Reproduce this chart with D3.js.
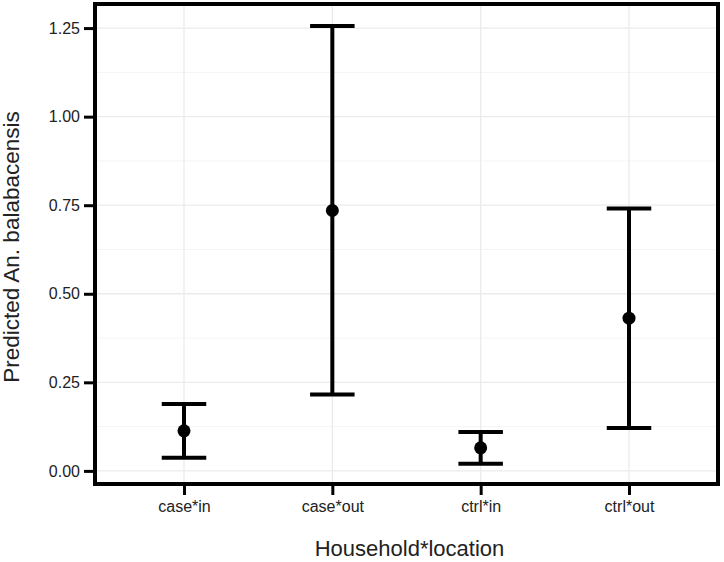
<!DOCTYPE html>
<html>
<head>
<meta charset="utf-8">
<script src="https://cdn.jsdelivr.net/npm/d3@7"></script>
<style>
  body { margin: 0; background: #fff; }
  text { font-family: Arial, "Liberation Sans", sans-serif; }
</style>
</head>
<body>
<svg id="chart" width="724" height="562"></svg>
<script>
// donnees
let categories = ["case*in", "case*out", "ctrl*in", "ctrl*out"];
let predicted = [0.113, 0.735, 0.065, 0.431];
let lower = [0.037, 0.216, 0.020, 0.121];
let upper = [0.189, 1.256, 0.110, 0.741];
let yTicks = [0, 0.25, 0.5, 0.75, 1.0, 1.25];
let yMinor = [0.125, 0.375, 0.625, 0.875, 1.125];

let data = categories.map((c, i) => ({ cat: c, fit: predicted[i], lo: lower[i], hi: upper[i] }));

let panel = { left: 95, right: 718, top: 4, bottom: 484 };
let svg = d3.select("#chart");

// axe x discret, expansion 0.6 de chaque cote comme ggplot
let x = d3.scalePoint()
    .domain(categories)
    .range([panel.left, panel.right])
    .padding(0.6);

let y = d3.scaleLinear()
    .domain([-0.037, 1.318])
    .range([panel.bottom, panel.top]);

// grille secondaire
svg.append("g").selectAll("line")
    .data(yMinor)
    .join("line")
    .attr("x1", panel.left).attr("x2", panel.right)
    .attr("y1", d => y(d)).attr("y2", d => y(d))
    .attr("stroke", "#f4f4f4").attr("stroke-width", 1);

// grille principale
svg.append("g").selectAll("line")
    .data(yTicks)
    .join("line")
    .attr("x1", panel.left).attr("x2", panel.right)
    .attr("y1", d => y(d)).attr("y2", d => y(d))
    .attr("stroke", "#ebebeb").attr("stroke-width", 1.3);

svg.append("g").selectAll("line")
    .data(categories)
    .join("line")
    .attr("x1", d => x(d)).attr("x2", d => x(d))
    .attr("y1", panel.top).attr("y2", panel.bottom)
    .attr("stroke", "#ebebeb").attr("stroke-width", 1.3);

// barres d'erreur
let capHalf = 0.15 * x.step();
let bars = svg.append("g").selectAll("g")
    .data(data)
    .join("g");

bars.append("line")
    .attr("x1", d => x(d.cat)).attr("x2", d => x(d.cat))
    .attr("y1", d => y(d.lo)).attr("y2", d => y(d.hi))
    .attr("stroke", "black").attr("stroke-width", 4);

bars.append("line")
    .attr("x1", d => x(d.cat) - capHalf).attr("x2", d => x(d.cat) + capHalf)
    .attr("y1", d => y(d.hi)).attr("y2", d => y(d.hi))
    .attr("stroke", "black").attr("stroke-width", 4);

bars.append("line")
    .attr("x1", d => x(d.cat) - capHalf).attr("x2", d => x(d.cat) + capHalf)
    .attr("y1", d => y(d.lo)).attr("y2", d => y(d.lo))
    .attr("stroke", "black").attr("stroke-width", 4);

bars.append("circle")
    .attr("cx", d => x(d.cat))
    .attr("cy", d => y(d.fit))
    .attr("r", 6.5)
    .attr("fill", "black");

// cadre du panneau
svg.append("rect")
    .attr("x", panel.left).attr("y", panel.top)
    .attr("width", panel.right - panel.left)
    .attr("height", panel.bottom - panel.top)
    .attr("fill", "none")
    .attr("stroke", "black").attr("stroke-width", 4);

// axe y
let yAxis = svg.append("g")
    .attr("transform", `translate(${panel.left - 2},0)`)
    .call(d3.axisLeft(y).tickValues(yTicks).tickFormat(d3.format(".2f")).tickSize(9).tickPadding(4));
yAxis.select(".domain").remove();
yAxis.selectAll(".tick line").attr("stroke", "black").attr("stroke-width", 3);
yAxis.selectAll(".tick text")
    .attr("font-size", "16px")
    .attr("fill", "#222")
    .attr("font-family", "Arial, 'Liberation Sans', sans-serif");

// axe x
let xAxis = svg.append("g")
    .attr("transform", `translate(0,${panel.bottom + 2})`)
    .call(d3.axisBottom(x).tickSize(9).tickPadding(6));
xAxis.select(".domain").remove();
xAxis.selectAll(".tick line").attr("stroke", "black").attr("stroke-width", 3);
xAxis.selectAll(".tick text")
    .attr("font-size", "16px")
    .attr("fill", "#222")
    .attr("font-family", "Arial, 'Liberation Sans', sans-serif");

// titres des axes
svg.append("text")
    .attr("x", (panel.left + panel.right) / 2 + 3)
    .attr("y", 556)
    .attr("text-anchor", "middle")
    .attr("font-size", "22px")
    .attr("fill", "#222")
    .text("Household*location");

svg.append("text")
    .attr("transform", `translate(19,247) rotate(-90)`)
    .attr("text-anchor", "middle")
    .attr("font-size", "22.5px")
    .attr("fill", "#222")
    .text("Predicted An. balabacensis");
</script>
</body>
</html>
